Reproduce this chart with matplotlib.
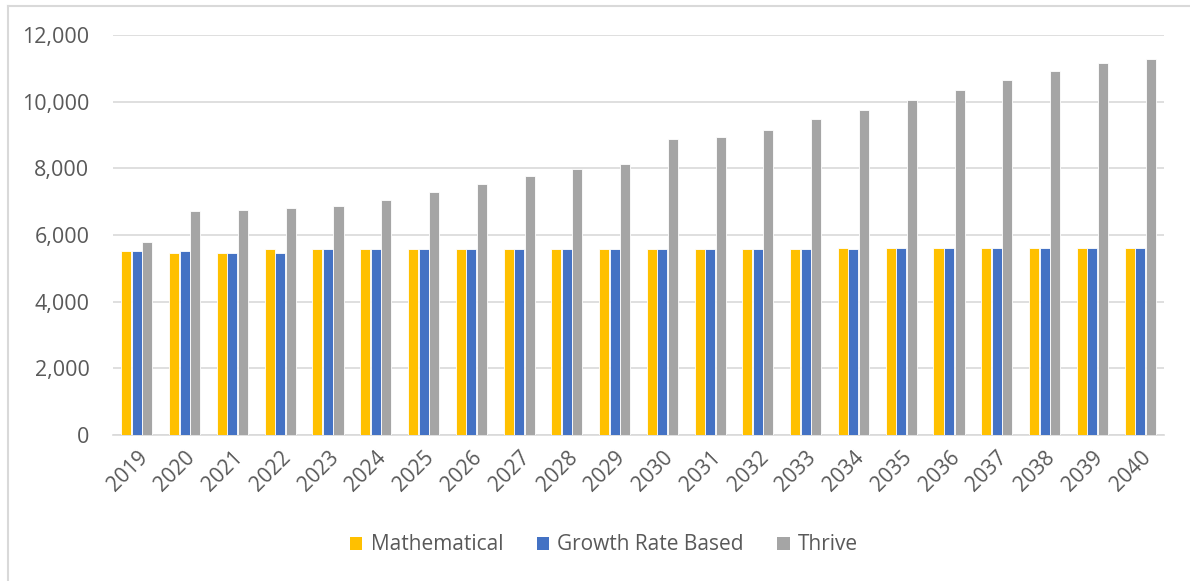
import matplotlib
matplotlib.use("Agg")
import matplotlib.pyplot as plt
from matplotlib.lines import Line2D
from matplotlib.patches import Patch
from matplotlib.ticker import FuncFormatter, MultipleLocator
import numpy as np

years = [str(y) for y in range(2019, 2041)]
mathematical = [5520, 5470, 5470, 5590, 5590, 5590, 5590, 5590, 5580, 5580, 5580,
                5580, 5580, 5580, 5580, 5610, 5610, 5610, 5610, 5610, 5610, 5610]
growth_rate = [5520, 5520, 5470, 5470, 5590, 5590, 5590, 5590, 5580, 5580, 5580,
               5580, 5580, 5580, 5580, 5570, 5610, 5610, 5610, 5610, 5610, 5610]
thrive = [5790, 6710, 6750, 6820, 6860, 7050, 7290, 7520, 7770, 7970, 8120,
          8890, 8930, 9160, 9470, 9740, 10040, 10360, 10660, 10930, 11170, 11280]

series = [("Mathematical", mathematical, "#FFC000"),
          ("Growth Rate Based", growth_rate, "#4472C4"),
          ("Thrive", thrive, "#A5A5A5")]

plt.rcParams['font.family'] = ['Open Sans', 'DejaVu Sans']
text_color = "#595959"
grid_color = "#D9D9D9"

W, H = 1190, 581
fig = plt.figure(figsize=(W / 100, H / 100), dpi=100)

# chart frame
fig.add_artist(Line2D([8 / W, 8 / W], [0, 1 - 6 / H], transform=fig.transFigure,
                      color=grid_color, lw=1.5))
fig.add_artist(Line2D([8 / W, 1], [1 - 6 / H, 1 - 6 / H], transform=fig.transFigure,
                      color=grid_color, lw=1.5))

left, right, top, bottom = 113, 1164, 35, 435
ax = fig.add_axes([left / W, 1 - bottom / H, (right - left) / W, (bottom - top) / H])

x = np.arange(len(years))
bw = 0.21
offsets = [-0.22, 0.0, 0.22]
for (name, vals, col), off in zip(series, offsets):
    ax.bar(x + off, vals, width=bw, color=col, edgecolor="white", linewidth=0.6,
           label=name, zorder=3)

ax.set_xlim(-0.5, len(years) - 0.5)
ax.set_ylim(0, 12000)
ax.yaxis.set_major_locator(MultipleLocator(2000))
ax.yaxis.set_major_formatter(FuncFormatter(lambda v, p: f"{int(v):,}"))
ax.grid(axis="y", color=grid_color, linewidth=1.2, zorder=0)
for s in ["left", "right", "top"]:
    ax.spines[s].set_visible(False)
ax.spines["bottom"].set_color(grid_color)
ax.spines["bottom"].set_linewidth(1.2)
ax.tick_params(axis="both", length=0, colors=text_color)
ax.tick_params(axis="y", pad=17, labelsize=15.5)
ax.set_xticks(x)
ax.set_xticklabels(years, rotation=45, ha="right", rotation_mode="anchor")
ax.tick_params(axis="x", pad=9, labelsize=15)

handles = [Patch(facecolor=c, edgecolor="none") for _, _, c in series]
leg = fig.legend(handles, [n for n, _, _ in series], loc="center",
                 bbox_to_anchor=(604 / W, 1 - 545 / H), ncol=3, frameon=False,
                 fontsize=15, handlelength=0.6, handleheight=0.6,
                 handletextpad=0.4, columnspacing=1.6)
for t in leg.get_texts():
    t.set_color(text_color)

fig.savefig("out.png", dpi=100)
